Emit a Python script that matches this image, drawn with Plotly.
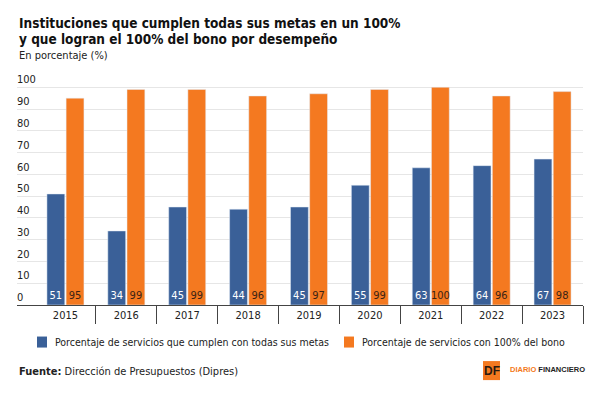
import plotly.graph_objects as go

years = ["2015", "2016", "2017", "2018", "2019", "2020", "2021", "2022", "2023"]
metas = [51, 34, 45, 44, 45, 55, 63, 64, 67]
bono = [95, 99, 99, 96, 97, 99, 100, 96, 98]
name_metas = "Porcentaje de servicios que cumplen con todas sus metas"
name_bono = "Porcentaje de servicios con 100% del bono"
y_ticks = [0, 10, 20, 30, 40, 50, 60, 70, 80, 90, 100]

FONT = "DejaVu Sans Condensed, DejaVu Sans, sans-serif"
LOGOFONT = "Liberation Sans, Arial, sans-serif"
BLUE = "#3a6098"
ORANGE = "#f47920"
DARK = "#222222"

W, H = 600, 394
YMAX = 107
PXU = 2.175  # px per unit on y
L, R, B = 17, 17, 89
T = round(H - B - YMAX * PXU, 1)
PW, PH = W - L - R, H - T - B


def px(x):
    return (x - L) / PW


def py(y):
    return (H - B - y) / PH


fig = go.Figure()
fig.add_trace(go.Bar(
    x=years, y=metas, name=name_metas, marker_color=BLUE,
    text=[str(v) for v in metas], textposition="inside", insidetextanchor="start",
    textangle=0, constraintext="none",
    textfont=dict(color="white", size=11, family=FONT),
))
fig.add_trace(go.Bar(
    x=years, y=bono, name=name_bono, marker_color=ORANGE,
    text=[str(v) for v in bono], textposition="inside", insidetextanchor="start",
    textangle=0, constraintext="none",
    textfont=dict(color="#3b2314", size=11, family=FONT),
))

fig.update_layout(
    width=W, height=H, margin=dict(l=L, r=R, t=T, b=B),
    paper_bgcolor="white", plot_bgcolor="white",
    font=dict(family=FONT, size=11, color=DARK),
    barmode="group", bargap=0.37, bargroupgap=0.07,
    showlegend=False,
)
fig.update_xaxes(
    type="category", range=[-0.5 - 18 / 60.9, 8.5],
    showline=True, linecolor="#444444", linewidth=1,
    ticks="outside", tickson="boundaries", ticklen=18, tickcolor="#444444",
    tickfont=dict(size=11, color=DARK),
    showgrid=False,
)
fig.update_yaxes(
    range=[0, YMAX], tickvals=y_ticks, showgrid=True, gridcolor="#e6e6e6",
    zeroline=False, ticklabelposition="inside top", ticklabelstandoff=-3,
    tickfont=dict(size=11, color=DARK),
    showline=False, ticks="",
)

# custom legend (square swatch + label, centred row)
LEG_Y = 342
leg = [(BLUE, name_metas, 37), (ORANGE, name_bono, 344)]
for color, label, x0 in leg:
    fig.add_shape(type="rect", xref="paper", yref="paper",
                  x0=px(x0), x1=px(x0 + 10), y0=py(LEG_Y + 5.5), y1=py(LEG_Y - 5.5),
                  fillcolor=color, line_width=0)
    fig.add_annotation(xref="paper", yref="paper", x=px(x0 + 16), y=py(LEG_Y),
                       xanchor="left", yanchor="middle", showarrow=False, text=label,
                       font=dict(size=10.5, color=DARK))

ann = [
    dict(text="<b>Instituciones que cumplen todas sus metas en un 100%</b>", x=px(17), y=py(23),
         font=dict(size=13.5, color="#111111")),
    dict(text="<b>y que logran el 100% del bono por desempeño</b>", x=px(17), y=py(39.5),
         font=dict(size=13.5, color="#111111")),
    dict(text="En porcentaje (%)", x=px(17), y=py(56), font=dict(size=11, color=DARK)),
    dict(text="<b>Fuente:</b> Dirección de Presupuestos (Dipres)", x=px(17), y=py(371),
         font=dict(size=11, color=DARK)),
    dict(text="<b><span style='color:%s'>DIARIO</span> FINANCIERO</b>" % ORANGE, x=px(508), y=py(369),
         font=dict(size=7.5, color="#222222", family=LOGOFONT)),
]
for a in ann:
    fig.add_annotation(xref="paper", yref="paper", xanchor="left", yanchor="middle",
                       showarrow=False, **a)

fig.add_shape(type="rect", xref="paper", yref="paper", x0=px(483), x1=px(500), y0=py(380), y1=py(361),
              fillcolor=ORANGE, line_width=0)
fig.add_annotation(xref="paper", yref="paper", x=px(491.5), y=py(370.5), xanchor="center", yanchor="middle",
                   showarrow=False, text="<b>DF</b>",
                   font=dict(size=12, color="#2a1a10", family=LOGOFONT))

fig.write_html("out.html")
